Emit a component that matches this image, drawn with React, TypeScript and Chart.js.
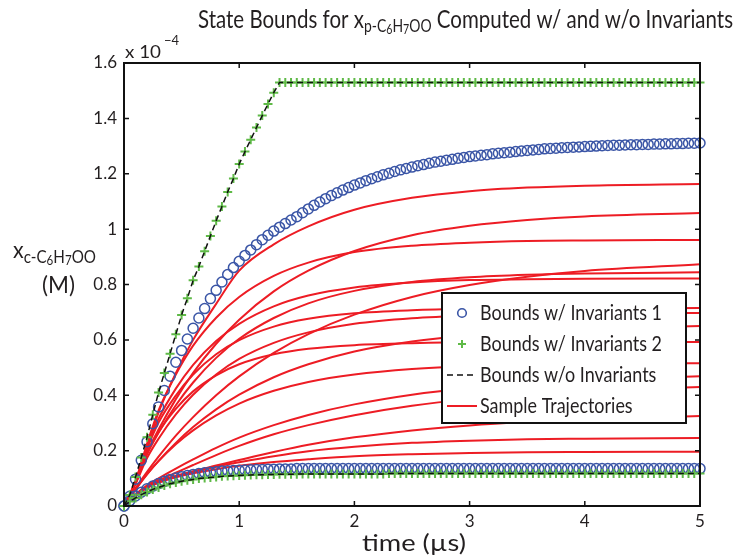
import React, { useEffect, useRef } from "react";
import { Chart, registerables } from "chart.js";

Chart.register(...registerables);

// ---------------- data (values in units of 1e-4 M) ----------------
const BOUND_TIMES = [
  0, 0.05, 0.1, 0.15, 0.2, 0.25, 0.3, 0.35, 0.4, 0.45,
  0.5, 0.55, 0.6, 0.65, 0.7, 0.75, 0.8, 0.85, 0.9, 0.95,
  1, 1.05, 1.1, 1.15, 1.2, 1.25, 1.3, 1.35, 1.4, 1.45,
  1.5, 1.55, 1.6, 1.65, 1.7, 1.75, 1.8, 1.85, 1.9, 1.95,
  2, 2.05, 2.1, 2.15, 2.2, 2.25, 2.3, 2.35, 2.4, 2.45,
  2.5, 2.55, 2.6, 2.65, 2.7, 2.75, 2.8, 2.85, 2.9, 2.95,
  3, 3.05, 3.1, 3.15, 3.2, 3.25, 3.3, 3.35, 3.4, 3.45,
  3.5, 3.55, 3.6, 3.65, 3.7, 3.75, 3.8, 3.85, 3.9, 3.95,
  4, 4.05, 4.1, 4.15, 4.2, 4.25, 4.3, 4.35, 4.4, 4.45,
  4.5, 4.55, 4.6, 4.65, 4.7, 4.75, 4.8, 4.85, 4.9, 4.95,
  5,
];

const UPPER_INV1 = [
  0, 0.035, 0.097, 0.165, 0.232, 0.297, 0.358, 0.417, 0.469, 0.519,
  0.562, 0.603, 0.642, 0.679, 0.713, 0.749, 0.779, 0.809, 0.836, 0.861,
  0.884, 0.905, 0.925, 0.944, 0.962, 0.978, 0.993, 1.007, 1.02, 1.033,
  1.045, 1.059, 1.073, 1.086, 1.098, 1.11, 1.121, 1.131, 1.141, 1.15,
  1.159, 1.167, 1.175, 1.182, 1.189, 1.196, 1.202, 1.208, 1.214, 1.219,
  1.224, 1.229, 1.233, 1.238, 1.242, 1.245, 1.249, 1.252, 1.256, 1.259,
  1.262, 1.264, 1.267, 1.269, 1.272, 1.274, 1.276, 1.278, 1.28, 1.282,
  1.284, 1.286, 1.288, 1.29, 1.291, 1.292, 1.294, 1.295, 1.296, 1.297,
  1.298, 1.299, 1.3, 1.301, 1.302, 1.303, 1.303, 1.304, 1.305, 1.305,
  1.306, 1.306, 1.307, 1.307, 1.308, 1.308, 1.309, 1.309, 1.31, 1.31,
  1.311,
];

const LOWER_INV1 = [
  0, 0.019, 0.036, 0.05, 0.062, 0.072, 0.081, 0.089, 0.096, 0.101,
  0.106, 0.11, 0.114, 0.117, 0.12, 0.122, 0.124, 0.126, 0.127, 0.128,
  0.129, 0.13, 0.131, 0.132, 0.132, 0.133, 0.133, 0.134, 0.134, 0.134,
  0.135, 0.135, 0.135, 0.135, 0.135, 0.135, 0.135, 0.135, 0.135, 0.135,
  0.135, 0.135, 0.135, 0.135, 0.135, 0.135, 0.135, 0.135, 0.135, 0.135,
  0.135, 0.135, 0.135, 0.135, 0.135, 0.135, 0.135, 0.135, 0.135, 0.135,
  0.135, 0.135, 0.135, 0.135, 0.135, 0.135, 0.135, 0.135, 0.135, 0.135,
  0.135, 0.135, 0.135, 0.135, 0.135, 0.135, 0.135, 0.135, 0.135, 0.135,
  0.135, 0.135, 0.135, 0.135, 0.135, 0.135, 0.135, 0.135, 0.135, 0.135,
  0.135, 0.135, 0.135, 0.135, 0.135, 0.135, 0.135, 0.135, 0.135, 0.135,
  0.135,
];

const UPPER_INV2 = [
  0, 0.04, 0.105, 0.175, 0.248, 0.33, 0.41, 0.48, 0.55, 0.62,
  0.69, 0.75, 0.815, 0.865, 0.92, 0.975, 1.03, 1.082, 1.134, 1.183,
  1.235, 1.28, 1.323, 1.367, 1.41, 1.452, 1.493, 1.53, 1.53, 1.53,
  1.53, 1.53, 1.53, 1.53, 1.53, 1.53, 1.53, 1.53, 1.53, 1.53,
  1.53, 1.53, 1.53, 1.53, 1.53, 1.53, 1.53, 1.53, 1.53, 1.53,
  1.53, 1.53, 1.53, 1.53, 1.53, 1.53, 1.53, 1.53, 1.53, 1.53,
  1.53, 1.53, 1.53, 1.53, 1.53, 1.53, 1.53, 1.53, 1.53, 1.53,
  1.53, 1.53, 1.53, 1.53, 1.53, 1.53, 1.53, 1.53, 1.53, 1.53,
  1.53, 1.53, 1.53, 1.53, 1.53, 1.53, 1.53, 1.53, 1.53, 1.53,
  1.53, 1.53, 1.53, 1.53, 1.53, 1.53, 1.53, 1.53, 1.53, 1.53,
  1.53,
];

const LOWER_INV2 = [
  0, 0.016, 0.029, 0.041, 0.051, 0.06, 0.067, 0.074, 0.08, 0.085,
  0.089, 0.093, 0.096, 0.099, 0.101, 0.103, 0.105, 0.107, 0.108, 0.109,
  0.11, 0.111, 0.112, 0.113, 0.113, 0.114, 0.114, 0.115, 0.115, 0.115,
  0.115, 0.116, 0.116, 0.116, 0.116, 0.116, 0.116, 0.116, 0.116, 0.116,
  0.116, 0.116, 0.116, 0.116, 0.116, 0.116, 0.117, 0.117, 0.117, 0.117,
  0.117, 0.117, 0.117, 0.117, 0.117, 0.117, 0.117, 0.117, 0.117, 0.117,
  0.117, 0.117, 0.117, 0.117, 0.117, 0.117, 0.117, 0.117, 0.117, 0.117,
  0.117, 0.117, 0.117, 0.117, 0.117, 0.117, 0.117, 0.117, 0.117, 0.117,
  0.117, 0.117, 0.117, 0.117, 0.117, 0.117, 0.117, 0.117, 0.117, 0.117,
  0.117, 0.117, 0.117, 0.117, 0.117, 0.117, 0.117, 0.117, 0.117, 0.117,
  0.117,
];

// bounds computed without invariants coincide with the "Invariants 2" bounds
const UPPER_NO_INV = UPPER_INV2;
const LOWER_NO_INV = LOWER_INV2;

const TRAJ_TIMES = [0, 0.1, 0.2, 0.3, 0.45, 0.6, 0.8, 1, 1.3, 1.6, 2, 2.5, 3, 3.5, 4, 5];

const TRAJ_01 = [0, 0.088, 0.215, 0.338, 0.48, 0.6, 0.73, 0.85, 0.945, 1.01, 1.07, 1.113, 1.137, 1.15, 1.157, 1.163];
const TRAJ_02 = [0, 0.085, 0.193, 0.276, 0.386, 0.481, 0.586, 0.673, 0.775, 0.85, 0.921, 0.978, 1.012, 1.033, 1.046, 1.058];
const TRAJ_03 = [0, 0.09, 0.225, 0.345, 0.475, 0.579, 0.68, 0.755, 0.831, 0.879, 0.917, 0.94, 0.951, 0.957, 0.959, 0.961];
const TRAJ_04 = [0, 0.064, 0.123, 0.178, 0.254, 0.321, 0.4, 0.468, 0.553, 0.621, 0.691, 0.755, 0.798, 0.828, 0.849, 0.873];
const TRAJ_05 = [0, 0.085, 0.187, 0.265, 0.364, 0.446, 0.535, 0.604, 0.679, 0.732, 0.777, 0.809, 0.826, 0.835, 0.84, 0.844];
const TRAJ_06 = [0, 0.088, 0.215, 0.315, 0.424, 0.51, 0.596, 0.658, 0.721, 0.76, 0.789, 0.807, 0.816, 0.819, 0.821, 0.822];
const TRAJ_07 = [0, 0.085, 0.205, 0.301, 0.399, 0.475, 0.548, 0.599, 0.648, 0.676, 0.696, 0.707, 0.712, 0.714, 0.714, 0.715];
const TRAJ_08 = [0, 0.08, 0.173, 0.243, 0.331, 0.402, 0.475, 0.531, 0.589, 0.627, 0.658, 0.678, 0.688, 0.693, 0.696, 0.697];
const TRAJ_09 = [0, 0.059, 0.114, 0.163, 0.228, 0.285, 0.349, 0.402, 0.465, 0.512, 0.558, 0.594, 0.617, 0.632, 0.64, 0.65];
const TRAJ_10 = [0, 0.08, 0.19, 0.267, 0.351, 0.414, 0.472, 0.512, 0.548, 0.568, 0.581, 0.588, 0.591, 0.591, 0.592, 0.592];
const TRAJ_11 = [0, 0.061, 0.115, 0.162, 0.223, 0.273, 0.327, 0.37, 0.416, 0.448, 0.475, 0.495, 0.506, 0.511, 0.515, 0.516];
const TRAJ_12 = [0, 0.042, 0.075, 0.1, 0.135, 0.168, 0.21, 0.247, 0.292, 0.329, 0.367, 0.402, 0.426, 0.443, 0.455, 0.469];
const TRAJ_13 = [0, 0.041, 0.071, 0.093, 0.12, 0.148, 0.184, 0.217, 0.259, 0.292, 0.328, 0.362, 0.386, 0.403, 0.415, 0.43];
const TRAJ_14 = [0, 0.039, 0.068, 0.088, 0.109, 0.126, 0.146, 0.166, 0.195, 0.221, 0.248, 0.273, 0.291, 0.304, 0.314, 0.325];
const TRAJ_15 = [0, 0.038, 0.066, 0.086, 0.107, 0.123, 0.142, 0.158, 0.18, 0.198, 0.214, 0.228, 0.236, 0.241, 0.243, 0.246];
const TRAJ_16 = [0, 0.037, 0.065, 0.084, 0.104, 0.118, 0.133, 0.145, 0.159, 0.169, 0.18, 0.187, 0.191, 0.194, 0.195, 0.196];

const TRAJECTORIES = [
  TRAJ_01, TRAJ_02, TRAJ_03, TRAJ_04, TRAJ_05, TRAJ_06, TRAJ_07, TRAJ_08,
  TRAJ_09, TRAJ_10, TRAJ_11, TRAJ_12, TRAJ_13, TRAJ_14, TRAJ_15, TRAJ_16,
];

const X_TICKS = [0, 1, 2, 3, 4, 5];
const Y_TICKS = [0, 0.2, 0.4, 0.6, 0.8, 1, 1.2, 1.4, 1.6];

const LEGEND_LABELS = [
  "Bounds w/ Invariants 1",
  "Bounds w/ Invariants 2",
  "Bounds w/o Invariants",
  "Sample Trajectories",
];

// ---------------- styles ----------------
const FONT = "Lato, 'Open Sans', 'DejaVu Sans', sans-serif";
const TEXT = "#231f20";
const BLUE = "#3a55a6";
const GREEN = "#5fba47";
const RED = "#ed1c24";
const BLACK = "#111111";

type Part = { t: string; s: number; dy: number };

// draws rich text at natural height, horizontally squeezed to targetW
function drawRich(
  ctx: CanvasRenderingContext2D,
  parts: Part[],
  x: number,
  y: number,
  targetW: number
) {
  let w = 0;
  for (const p of parts) {
    ctx.font = `${p.s}px ${FONT}`;
    w += ctx.measureText(p.t).width;
  }
  const kx = targetW / w;
  ctx.save();
  ctx.translate(x, y);
  ctx.scale(kx, 1);
  ctx.textAlign = "left";
  ctx.textBaseline = "alphabetic";
  let cx = 0;
  for (const p of parts) {
    ctx.font = `${p.s}px ${FONT}`;
    ctx.fillText(p.t, cx, p.dy);
    cx += ctx.measureText(p.t).width;
  }
  ctx.restore();
}

function drawFit(
  ctx: CanvasRenderingContext2D,
  text: string,
  x: number,
  y: number,
  size: number,
  targetW: number
) {
  ctx.font = `${size}px ${FONT}`;
  const kx = targetW / ctx.measureText(text).width;
  ctx.save();
  ctx.translate(x, y);
  ctx.scale(kx, 1);
  ctx.textAlign = "left";
  ctx.textBaseline = "alphabetic";
  ctx.fillText(text, 0, 0);
  ctx.restore();
}

const decorPlugin = {
  id: "decor",
  afterDatasetsDraw(chart: any) {
    const ctx: CanvasRenderingContext2D = chart.ctx;
    const ca = chart.chartArea;
    const xs = chart.scales.x;
    const ys = chart.scales.y;
    ctx.save();
    ctx.strokeStyle = BLACK;
    ctx.lineWidth = 2;
    ctx.strokeRect(ca.left, ca.top, ca.right - ca.left, ca.bottom - ca.top);
    ctx.lineWidth = 1.5;
    const tl = 5;
    ctx.beginPath();
    for (const v of X_TICKS) {
      const px = xs.getPixelForValue(v);
      ctx.moveTo(px, ca.bottom);
      ctx.lineTo(px, ca.bottom - tl);
      ctx.moveTo(px, ca.top);
      ctx.lineTo(px, ca.top + tl);
    }
    for (const v of Y_TICKS) {
      const py = ys.getPixelForValue(v);
      ctx.moveTo(ca.left, py);
      ctx.lineTo(ca.left + tl, py);
      ctx.moveTo(ca.right, py);
      ctx.lineTo(ca.right - tl, py);
    }
    ctx.stroke();
    ctx.restore();
  },
  afterDraw(chart: any) {
    const ctx: CanvasRenderingContext2D = chart.ctx;
    const ca = chart.chartArea;
    ctx.save();
    ctx.fillStyle = TEXT;

    // title
    drawRich(
      ctx,
      [
        { t: "State Bounds for x", s: 25, dy: 0 },
        { t: "p-C", s: 17, dy: 4 },
        { t: "6", s: 13, dy: 6 },
        { t: "H", s: 17, dy: 4 },
        { t: "7", s: 13, dy: 6 },
        { t: "OO", s: 17, dy: 4 },
        { t: " Computed w/ and w/o Invariants", s: 25, dy: 0 },
      ],
      198,
      28,
      535
    );

    // y label
    drawRich(
      ctx,
      [
        { t: "x", s: 24, dy: 0 },
        { t: "c-C", s: 17, dy: 5 },
        { t: "6", s: 13, dy: 7 },
        { t: "H", s: 17, dy: 5 },
        { t: "7", s: 13, dy: 7 },
        { t: "OO", s: 17, dy: 5 },
      ],
      13,
      258,
      83
    );
    drawFit(ctx, "(M)", 42, 293, 24, 33);

    // x label
    drawFit(ctx, "time (µs)", 362, 551, 24, 104);

    // exponent
    ctx.textAlign = "left";
    ctx.textBaseline = "alphabetic";
    drawFit(ctx, "x 10", ca.left + 1, 58, 18, 36);
    ctx.font = `13px ${FONT}`;
    ctx.fillText("\u22124", ca.left + 40, 45);

    // legend
    const lx = 442, ly = 293, lw = 244, lh = 130;
    ctx.fillStyle = "#ffffff";
    ctx.fillRect(lx, ly, lw, lh);
    ctx.strokeStyle = BLACK;
    ctx.lineWidth = 2;
    ctx.strokeRect(lx, ly, lw, lh);
    const rows = [313, 344, 375, 406];
    const mx = 462;
    // circle
    ctx.strokeStyle = BLUE;
    ctx.lineWidth = 1.6;
    ctx.beginPath();
    ctx.arc(mx, rows[0], 4.3, 0, Math.PI * 2);
    ctx.stroke();
    // plus
    ctx.strokeStyle = GREEN;
    ctx.lineWidth = 2;
    ctx.beginPath();
    ctx.moveTo(mx - 4, rows[1]);
    ctx.lineTo(mx + 4, rows[1]);
    ctx.moveTo(mx, rows[1] - 4);
    ctx.lineTo(mx, rows[1] + 4);
    ctx.stroke();
    // dashed
    ctx.strokeStyle = BLACK;
    ctx.lineWidth = 1.5;
    ctx.setLineDash([6, 4]);
    ctx.beginPath();
    ctx.moveTo(447, rows[2]);
    ctx.lineTo(477, rows[2]);
    ctx.stroke();
    ctx.setLineDash([]);
    // red
    ctx.strokeStyle = RED;
    ctx.lineWidth = 2;
    ctx.beginPath();
    ctx.moveTo(447, rows[3]);
    ctx.lineTo(477, rows[3]);
    ctx.stroke();

    ctx.fillStyle = TEXT;
    const LEGEND_SIZE = 21;
    ctx.font = `${LEGEND_SIZE}px ${FONT}`;
    const kx = 182 / ctx.measureText(LEGEND_LABELS[0]).width;
    LEGEND_LABELS.forEach((lab, i) => {
      ctx.font = `${LEGEND_SIZE}px ${FONT}`;
      const w = ctx.measureText(lab).width * kx;
      drawFit(ctx, lab, 480, rows[i] + 7, LEGEND_SIZE, w);
    });
    ctx.restore();
  },
};

function pts(xs: number[], ys: number[]) {
  return xs.map((x, i) => ({ x, y: ys[i] }));
}

export default function App() {
  const ref = useRef<HTMLCanvasElement | null>(null);

  useEffect(() => {
    document.body.style.margin = "0";
    const canvas = ref.current;
    if (!canvas) return;

    const circleDs = (data: number[]) => ({
      data: pts(BOUND_TIMES, data),
      showLine: false,
      pointStyle: "circle",
      pointRadius: 5,
      pointBorderWidth: 1.5,
      borderColor: BLUE,
      pointBorderColor: BLUE,
      backgroundColor: "rgba(0,0,0,0)",
      pointBackgroundColor: "rgba(0,0,0,0)",
      clip: false,
      order: 2,
    });
    const plusDs = (data: number[]) => ({
      data: pts(BOUND_TIMES, data),
      showLine: false,
      pointStyle: "cross",
      pointRadius: 4.5,
      pointBorderWidth: 2,
      borderColor: GREEN,
      pointBorderColor: GREEN,
      backgroundColor: GREEN,
      clip: false,
      order: 1,
    });
    const dashDs = (data: number[]) => ({
      data: pts(BOUND_TIMES, data),
      showLine: true,
      borderColor: BLACK,
      borderWidth: 1.5,
      borderDash: [6, 4],
      pointRadius: 0,
      tension: 0,
      fill: false,
      clip: false,
      order: 0,
    });
    const redDs = TRAJECTORIES.map((tr) => ({
      data: pts(TRAJ_TIMES, tr),
      showLine: true,
      borderColor: RED,
      borderWidth: 2,
      pointRadius: 0,
      cubicInterpolationMode: "monotone",
      fill: false,
      clip: false,
      order: 3,
    }));

    const chart = new Chart(canvas, {
      type: "line",
      data: {
        datasets: [
          dashDs(UPPER_NO_INV),
          dashDs(LOWER_NO_INV),
          plusDs(UPPER_INV2),
          plusDs(LOWER_INV2),
          circleDs(UPPER_INV1),
          circleDs(LOWER_INV1),
          ...redDs,
        ] as any,
      },
      options: {
        animation: false,
        responsive: false,
        maintainAspectRatio: false,
        events: [],
        layout: { padding: { left: 0, right: 40, top: 63, bottom: 0 } },
        plugins: {
          legend: { display: false },
          title: { display: false },
          tooltip: { enabled: false },
        },
        scales: {
          x: {
            type: "linear",
            min: 0,
            max: 5,
            afterBuildTicks: (s: any) => {
              s.ticks = X_TICKS.map((v) => ({ value: v }));
            },
            afterFit: (s: any) => {
              s.height = 50;
            },
            ticks: {
              color: TEXT,
              font: { family: FONT, size: 17 },
              padding: 5,
              maxRotation: 0,
              callback: (v: any) => String(v),
            },
            grid: { display: false, drawTicks: false },
            border: { display: false },
          },
          y: {
            type: "linear",
            min: 0,
            max: 1.6,
            afterBuildTicks: (s: any) => {
              s.ticks = Y_TICKS.map((v) => ({ value: v }));
            },
            afterFit: (s: any) => {
              s.width = 124;
            },
            ticks: {
              color: TEXT,
              font: { family: FONT, size: 17 },
              padding: 7,
              callback: (v: any) => String(+(+v).toFixed(1)),
            },
            grid: { display: false, drawTicks: false },
            border: { display: false },
          },
        },
      } as any,
      plugins: [decorPlugin],
    });

    return () => chart.destroy();
  }, []);

  return (
    <div style={{ width: 740, height: 556, background: "#fff" }}>
      <canvas ref={ref} width={740} height={556} style={{ display: "block" }} />
    </div>
  );
}
